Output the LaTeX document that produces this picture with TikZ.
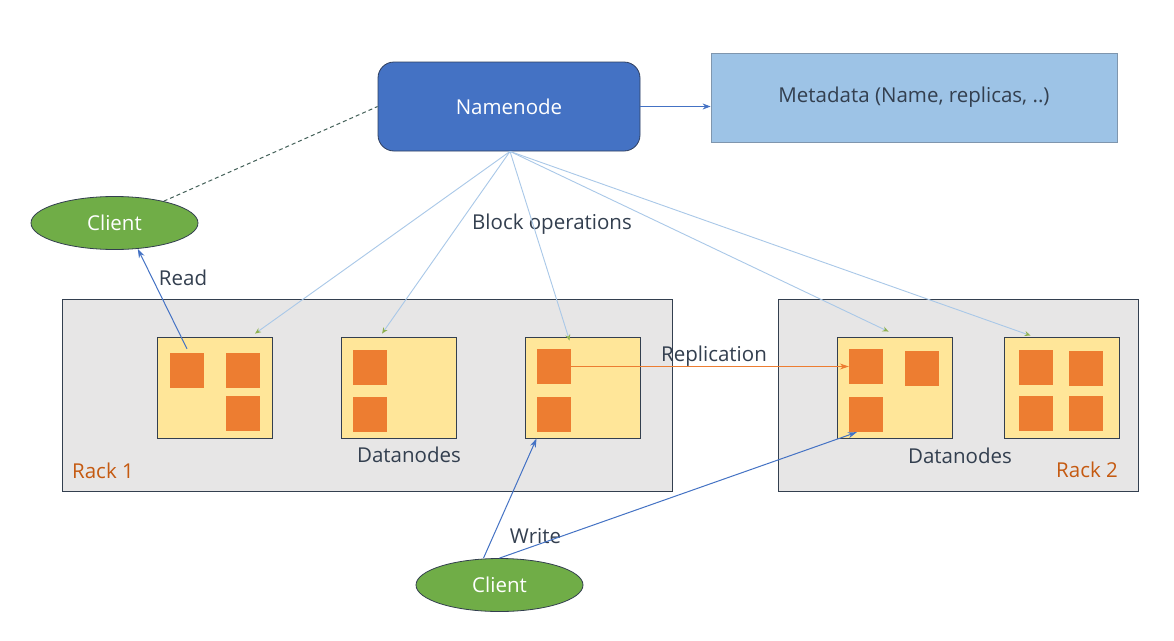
\documentclass[tikz,border=0pt]{standalone}
\usepackage{fontspec}
\setmainfont{Open Sans}
\usetikzlibrary{arrows.meta,shapes.geometric,calc}
\definecolor{nnblue}{HTML}{4472C4}
\definecolor{nnborder}{HTML}{2F3F5F}
\definecolor{metablue}{HTML}{9DC3E6}
\definecolor{metaborder}{HTML}{7F96AE}
\definecolor{cgreen}{HTML}{70AD47}
\definecolor{dark}{HTML}{333F4F}
\definecolor{rackgray}{HTML}{E7E6E6}
\definecolor{dnyellow}{HTML}{FFE699}
\definecolor{blk}{HTML}{ED7D31}
\definecolor{rackorange}{HTML}{C55A11}
\definecolor{opblue}{HTML}{A9C8E8}
\definecolor{optip}{HTML}{8DB04F}
\tikzset{
  txt/.style={font=\fontsize{20.5}{24}\selectfont},
  lbl/.style={txt, text=dark, inner sep=0, anchor=base},
  namebox/.style={draw=nnborder, line width=0.8pt, fill=nnblue, rounded corners=16pt, minimum width=262pt, minimum height=89pt, inner sep=0, text=white, txt},
  metabox/.style={draw=metaborder, line width=0.8pt, fill=metablue, minimum width=406pt, minimum height=89pt, inner sep=0, text=dark, txt},
  client/.style={ellipse, draw=dark, line width=0.8pt, fill=cgreen, minimum width=167pt, minimum height=53pt, inner sep=0, text=white, txt},
  rack/.style={draw=dark, line width=0.9pt, fill=rackgray, minimum height=192pt, inner sep=0},
  datanode/.style={draw=dark, line width=0.9pt, fill=dnyellow, minimum width=115pt, minimum height=101pt, inner sep=0},
  block/.style={fill=blk, minimum width=34pt, minimum height=35pt, inner sep=0},
  blockop/.style={draw=opblue, line width=0.9pt, -{Stealth[open, length=6pt, width=5pt, color=optip]}},
  rw/.style={draw=nnblue, line width=1pt, -{Stealth[length=9pt, width=6pt]}},
}
\begin{document}
\begin{tikzpicture}[x=1pt, y=-1pt]
\useasboundingbox[fill=white] (0,0) rectangle (1174,640);

% racks
\node[rack, minimum width=610pt] (rack1) at (367,395) {};
\node[rack, minimum width=360pt] (rack2) at (958,395) {};

% namenode and metadata
\node[namebox] (nn) at (509,106.5) {Namenode};
\node[metabox] (meta) at (914,97.5) {Metadata (Name, replicas, ..)};

% clients
\node[client] (c1) at (114.5,223) {Client};
\node[client] (c2) at (499.5,585) {Client};

% datanodes
\node[datanode] (dn1) at (215,387.5) {};
\node[datanode] (dn2) at (399,387.5) {};
\node[datanode] (dn3) at (582.5,387.5) {};
\node[datanode] (dn4) at (894.5,387.5) {};
\node[datanode] (dn5) at (1061.5,387.5) {};

% blocks
\node[block] (b11) at (187,370.5) {};
\node[block] (b12) at (243,370.5) {};
\node[block] (b13) at (243,413.5) {};
\node[block] (b21) at (370,367.5) {};
\node[block] (b22) at (370,414) {};
\node[block] (b31) at (554,366.5) {};
\node[block] (b32) at (554,414.5) {};
\node[block] (b41) at (866,366.5) {};
\node[block] (b42) at (922,368.5) {};
\node[block] (b43) at (866,414.5) {};
\node[block] (b51) at (1036,367.5) {};
\node[block] (b52) at (1086,368.5) {};
\node[block] (b53) at (1036,413.5) {};
\node[block] (b54) at (1086,413.5) {};

% labels
\node[lbl] (lblock) at (552,229) {Block operations};
\node[lbl] (lread) at (183,285) {Read};
\node[lbl] (ldn1) at (409,462) {Datanodes};
\node[lbl] (ldn2) at (960,463) {Datanodes};
\node[lbl] (lrep) at (714,361) {Replication};
\node[lbl] (lwrite) at (535.5,543) {Write};
\node[lbl, text=rackorange] (lr1) at (103,478) {Rack 1};
\node[lbl, text=rackorange] (lr2) at (1087,477) {Rack 2};

% connectors
\coordinate (nnb) at ($(nn.south)+(1,0)$);
\draw[draw=nnblue, line width=1pt, -{Stealth[length=8pt, width=6pt]}] (nn.east) -- (nn.east -| meta.west);
\draw[draw=nnborder!70!cgreen, line width=1pt, dash pattern=on 4pt off 3pt] (c1) -- (nn.west);

\draw[blockop] (nnb) -- ($(dn1.north west)+(98,-3)$);
\draw[blockop] (nnb) -- ($(dn2.north west)+(41,-3)$);
\draw[blockop] (nnb) -- ($(dn3.north west)+(45,4)$);
\draw[blockop] (nnb) -- ($(dn4.north west)+(52,-5)$);
\draw[blockop] (nnb) -- ($(dn5.north west)+(27,-1)$);

\draw[draw=blk, line width=1pt, -{Stealth[length=9pt, width=6pt]}] (b31.east) -- (b41.west);

\draw[rw] ($(b11.north)+(0,-4)$) -- (c1.-48);
\draw[rw] ($(c2.north)+(-16,0)$) -- ($(dn3.south west)+(12,0)$);
\draw[rw] (c2.north) -- ($(b43.south west)+(8,0)$);
\end{tikzpicture}
\end{document}
